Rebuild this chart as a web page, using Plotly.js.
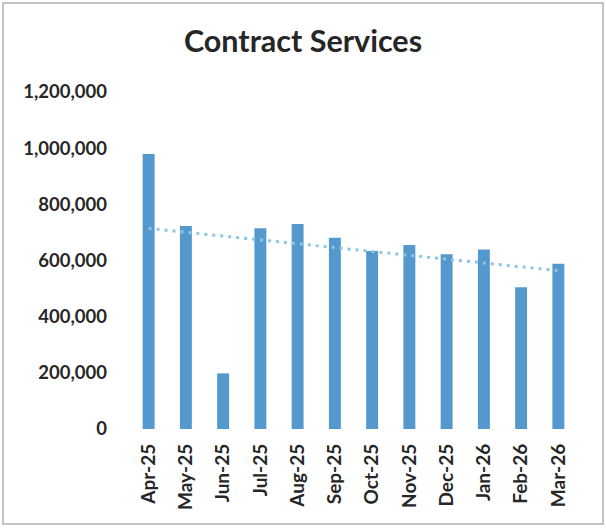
<!DOCTYPE html>
<html>
<head>
<meta charset="utf-8">
<script src="https://cdn.plot.ly/plotly-3.0.1.min.js"></script>
<style>
html,body{margin:0;padding:0;background:#fff;}
#wrap{position:relative;width:606px;height:531px;}
#chart{position:absolute;left:0;top:0;width:606px;height:531px;}
#frame{position:absolute;left:2px;top:2px;width:602px;height:523px;box-sizing:border-box;border:2px solid #c4c4c4;pointer-events:none;}
</style>
</head>
<body>
<div id="wrap"><div id="chart"></div><div id="frame"></div></div>
<script>
const months = ["Apr-25","May-25","Jun-25","Jul-25","Aug-25","Sep-25","Oct-25","Nov-25","Dec-25","Jan-26","Feb-26","Mar-26"];
const values = [979000,723000,198000,715000,730000,681000,634000,655000,622000,639000,505000,588000];
const yTicks = [0,200000,400000,600000,800000,1000000,1200000];

// linear trendline (least squares) computed from the data
const n = values.length;
const xs = values.map((_, i) => i);
const mx = xs.reduce((a,b)=>a+b,0)/n;
const my = values.reduce((a,b)=>a+b,0)/n;
let sxy = 0, sxx = 0;
for (let i = 0; i < n; i++) { sxy += (xs[i]-mx)*(values[i]-my); sxx += (xs[i]-mx)**2; }
const slope = sxy/sxx, icpt = my - slope*mx;
const trend = xs.map(x => icpt + slope*x);

const fam = "Lato, 'Open Sans', sans-serif";
const txt = "#262626";

const data = [
  {type: "bar", x: months, y: values, marker: {color: "#5499cd"}, hoverinfo: "x+y"},
  {type: "scatter", mode: "lines", x: months, y: trend,
   line: {color: "#8cc5e6", width: 3, dash: "3px,5px"}, hoverinfo: "skip"}
];

const layout = {
  width: 606, height: 531,
  margin: {l: 130, r: 29, t: 92, b: 102},
  paper_bgcolor: "#fff", plot_bgcolor: "#fff",
  showlegend: false,
  bargap: 0.68,
  title: {text: "Contract Services", font: {family: fam, size: 30.5, weight: "bold", color: txt},
          x: 0.5, xanchor: "center", y: 1 - 41/531, yref: "container", yanchor: "middle"},
  xaxis: {type: "category", range: [-0.5, 11.5], tickangle: -90, showgrid: false, zeroline: false,
          showline: false, ticks: "", ticklabelstandoff: 10,
          tickfont: {family: fam, size: 19, weight: "bold", color: txt}},
  yaxis: {range: [0, 1200000], tickvals: yTicks, tickformat: ",d", showgrid: false, zeroline: false,
          showline: false, ticks: "", ticklabelstandoff: 22,
          tickfont: {family: fam, size: 18.5, weight: "bold", color: txt}}
};

Plotly.newPlot("chart", data, layout, {displayModeBar: false, staticPlot: true});
</script>
</body>
</html>
